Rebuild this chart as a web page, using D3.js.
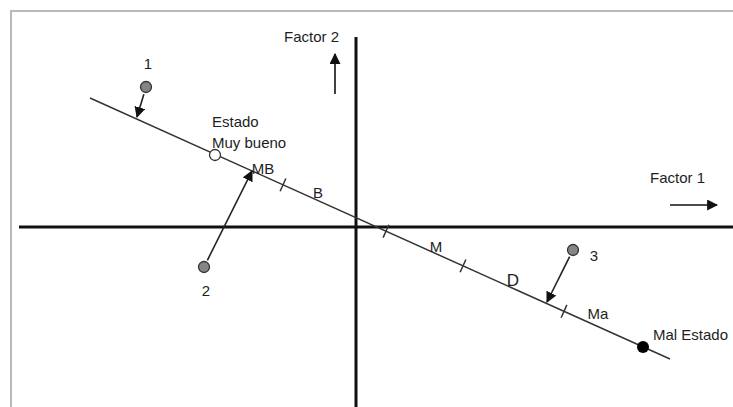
<!DOCTYPE html>
<html>
<head>
<meta charset="utf-8">
<script src="https://cdn.jsdelivr.net/npm/d3@7"></script>
<style>
  body { margin: 0; background: #fff; }
  svg text { font-family: "Liberation Sans", Arial, sans-serif; fill: #1e1e1e; }
</style>
</head>
<body>
<div id="chartDiv"></div>
<script>
// Data (factor-space coordinates)
const lineEnds = [[-2.66, 1.29], [3.14, -1.32]];           // state axis
const stateTicks = [-0.73, 0.30, 1.07, 2.08];              // factor-1 position of class boundaries
const classLabels = ['MB', 'B', 'M', 'D', 'Ma'];
const classLabelPos = [[-0.93, 0.59], [-0.38, 0.35], [0.80, -0.19], [1.57, -0.53], [2.42, -0.86]];
const pointNames = ['1', '2', '3'];
const pointF1 = [-2.10, -1.52, 2.17];
const pointF2 = [1.40, -0.40, -0.23];
const projF1 = [-2.19, -1.04, 1.91];
const projF2 = [1.10, 0.56, -0.75];
const refNames = ['Muy bueno', 'Mal Estado'];
const refF1 = [-1.41, 2.87];
const refF2 = [0.72, -1.20];
const factorArrows = [
  { label: 'Factor 2', from: [-0.21, 1.33], to: [-0.21, 1.73] },
  { label: 'Factor 1', from: [3.14, 0.22], to: [3.61, 0.22] }
];

const W = 733, H = 407;
const svg = d3.select('#chartDiv').append('svg').attr('width', W).attr('height', H);

// scales: 100px per factor unit, origin at (356, 227)
const x = d3.scaleLinear().domain([-3.45, 3.77]).range([11, 733]);
const y = d3.scaleLinear().domain([2.16, -1.80]).range([11, 407]);

svg.append('defs').append('marker')
  .attr('id', 'head').attr('viewBox', '0 0 10 10')
  .attr('refX', 9).attr('refY', 5)
  .attr('markerWidth', 11).attr('markerHeight', 11)
  .attr('markerUnits', 'userSpaceOnUse')
  .attr('orient', 'auto')
  .append('path').attr('d', 'M0,0 L10,5 L0,10 Z').attr('fill', '#111');

// frame
svg.append('rect').attr('x', 11).attr('y', 11).attr('width', W + 10).attr('height', H + 10)
  .attr('fill', 'none').attr('stroke', '#b6babe').attr('stroke-width', 2);

// factor axes
svg.append('line')
  .attr('x1', x(-3.37)).attr('x2', W).attr('y1', y(0)).attr('y2', y(0))
  .attr('stroke', '#111').attr('stroke-width', 3);
svg.append('line')
  .attr('x1', x(0)).attr('x2', x(0)).attr('y1', y(1.90)).attr('y2', H)
  .attr('stroke', '#111').attr('stroke-width', 3);

// state line
svg.append('line')
  .attr('x1', x(lineEnds[0][0])).attr('y1', y(lineEnds[0][1]))
  .attr('x2', x(lineEnds[1][0])).attr('y2', y(lineEnds[1][1]))
  .attr('stroke', '#333').attr('stroke-width', 1.5);

const slope = (lineEnds[1][1] - lineEnds[0][1]) / (lineEnds[1][0] - lineEnds[0][0]);
const lineF2 = f1 => lineEnds[0][1] + slope * (f1 - lineEnds[0][0]);

// tick marks across the line
const dx = x(lineEnds[1][0]) - x(lineEnds[0][0]), dy = y(lineEnds[1][1]) - y(lineEnds[0][1]);
const len = Math.hypot(dx, dy);
const nx = -dy / len * 7, ny = dx / len * 7;
svg.selectAll('.tick').data(stateTicks).enter().append('line')
  .attr('x1', d => x(d) - nx).attr('y1', d => y(lineF2(d)) - ny)
  .attr('x2', d => x(d) + nx).attr('y2', d => y(lineF2(d)) + ny)
  .attr('stroke', '#333').attr('stroke-width', 1.5);

svg.selectAll('.cls').data(classLabels).enter().append('text')
  .attr('x', (d, i) => x(classLabelPos[i][0])).attr('y', (d, i) => y(classLabelPos[i][1]))
  .attr('text-anchor', 'middle').attr('dominant-baseline', 'central')
  .style('font-size', (d) => d === 'D' ? '17px' : '15px')
  .text(d => d);

// projection arrows
const r = 5.5;
svg.selectAll('.proj').data(pointNames).enter().append('line')
  .each(function(d, i) {
    const x0 = x(pointF1[i]), y0 = y(pointF2[i]), x1 = x(projF1[i]), y1 = y(projF2[i]);
    const l = Math.hypot(x1 - x0, y1 - y0);
    d3.select(this)
      .attr('x1', x0 + (x1 - x0) / l * (r + 2)).attr('y1', y0 + (y1 - y0) / l * (r + 2))
      .attr('x2', x1).attr('y2', y1);
  })
  .attr('stroke', '#222').attr('stroke-width', 1.6)
  .attr('marker-end', 'url(#head)');

// points
svg.selectAll('.pt').data(pointNames).enter().append('circle')
  .attr('cx', (d, i) => x(pointF1[i])).attr('cy', (d, i) => y(pointF2[i])).attr('r', r)
  .attr('fill', '#858585').attr('stroke', '#333').attr('stroke-width', 1.3);

const ptLabelOff = [[2, -24], [2, 23], [21, 5]];
svg.selectAll('.ptl').data(pointNames).enter().append('text')
  .attr('x', (d, i) => x(pointF1[i]) + ptLabelOff[i][0])
  .attr('y', (d, i) => y(pointF2[i]) + ptLabelOff[i][1])
  .attr('text-anchor', 'middle').attr('dominant-baseline', 'central')
  .style('font-size', '15px').text(d => d);

// reference states
svg.append('circle').attr('cx', x(refF1[0])).attr('cy', y(refF2[0])).attr('r', 5.5)
  .attr('fill', '#fff').attr('stroke', '#333').attr('stroke-width', 1.3);
svg.append('circle').attr('cx', x(refF1[1])).attr('cy', y(refF2[1])).attr('r', 6)
  .attr('fill', '#000');

svg.append('text').attr('x', x(refF1[0]) - 3).attr('y', y(refF2[0]) - 34)
  .attr('dominant-baseline', 'central').style('font-size', '15px').text('Estado');
svg.append('text').attr('x', x(refF1[0]) - 3).attr('y', y(refF2[0]) - 13)
  .attr('dominant-baseline', 'central').style('font-size', '15px').text(refNames[0]);
svg.append('text').attr('x', x(refF1[1]) + 10).attr('y', y(refF2[1]) - 13)
  .attr('dominant-baseline', 'central').style('font-size', '15px').text(refNames[1]);

// factor direction arrows
svg.selectAll('.fa').data(factorArrows).enter().append('line')
  .attr('x1', d => x(d.from[0])).attr('y1', d => y(d.from[1]))
  .attr('x2', d => x(d.to[0])).attr('y2', d => y(d.to[1]))
  .attr('stroke', '#111').attr('stroke-width', 1.6)
  .attr('marker-end', 'url(#head)');

svg.append('text').attr('x', x(factorArrows[0].to[0]) + 4).attr('y', y(factorArrows[0].to[1]) - 18)
  .attr('text-anchor', 'end').attr('dominant-baseline', 'central')
  .style('font-size', '15px').text(factorArrows[0].label);
svg.append('text').attr('x', x(factorArrows[1].from[0]) - 20).attr('y', y(factorArrows[1].from[1]) - 28)
  .attr('dominant-baseline', 'central')
  .style('font-size', '15px').text(factorArrows[1].label);
</script>
</body>
</html>
